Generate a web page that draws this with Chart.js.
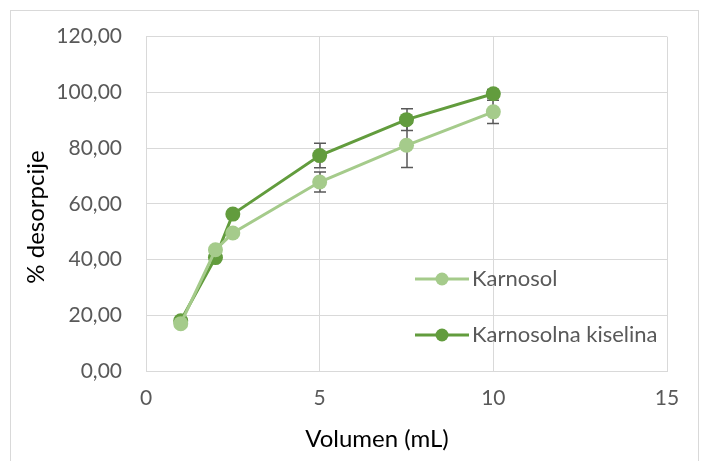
<!DOCTYPE html>
<html><head><meta charset="utf-8">
<script src="https://cdn.jsdelivr.net/npm/chart.js@4"></script>
<style>html,body{margin:0;padding:0;background:#fff}#wrap{width:702px;height:461px}</style>
</head><body><div id="wrap"><canvas id="c" width="702" height="461"></canvas></div>
<script>
// ---- data ----
const volumen = [1, 2, 2.5, 5, 7.5, 10];
const karnosol = [17.0, 43.5, 49.5, 67.8, 81.0, 93.0];
const karnosolErr = [1.0, 1.0, 1.0, 3.6, 8.0, 4.2];
const kiselina = [18.0, 40.7, 56.3, 77.3, 90.2, 99.5];
const kiselinaErr = [1.0, 1.0, 1.0, 4.4, 3.9, 1.5];
const seriesLabels = ['Karnosol', 'Karnosolna kiselina'];
const xTitle = 'Volumen (mL)';
const yTitle = '% desorpcije';

// ---- style ----
const C_LIGHT = '#A5CB8B';
const C_DARK = '#629C3D';
const GRID = '#d9d9d9';
const TXT = '#595959';
const FONT = 'Lato, "Liberation Sans", sans-serif';

function pts(xs, ys){ return xs.map((x,i)=>({x:x, y:ys[i]})); }

const errorBars = {
  id:'errorBars',
  beforeDatasetsDraw(chart){
    const ctx = chart.ctx, xs = chart.scales.x, ys = chart.scales.y;
    const errs = [karnosolErr, kiselinaErr];
    const vals = [karnosol, kiselina];
    ctx.save();
    ctx.strokeStyle = '#595959'; ctx.lineWidth = 1.5;
    errs.forEach((e,si)=>{
      volumen.forEach((v,i)=>{
        const px = Math.round(xs.getPixelForValue(v));
        const y1 = ys.getPixelForValue(vals[si][i]+e[i]);
        const y2 = ys.getPixelForValue(vals[si][i]-e[i]);
        ctx.beginPath();
        ctx.moveTo(px, y1); ctx.lineTo(px, y2);
        ctx.moveTo(px-6, y1); ctx.lineTo(px+6, y1);
        ctx.moveTo(px-6, y2); ctx.lineTo(px+6, y2);
        ctx.stroke();
      });
    });
    ctx.restore();
  }
};

const frameAndLegend = {
  id:'frameAndLegend',
  beforeDraw(chart){
    const ctx = chart.ctx;
    ctx.save();
    ctx.fillStyle='#fff'; ctx.fillRect(0,0,chart.width,chart.height);
    ctx.strokeStyle = GRID; ctx.lineWidth = 1;
    ctx.strokeRect(10.5, 10.5, 688, 470);
    ctx.restore();
  },
  afterDraw(chart){
    const ctx = chart.ctx;
    ctx.save();
    // axis titles
    ctx.fillStyle = '#000'; ctx.font = '24px ' + FONT;
    ctx.textAlign = 'center'; ctx.textBaseline = 'alphabetic';
    ctx.fillText(xTitle, 377, 447);
    ctx.translate(44, 217); ctx.rotate(-Math.PI/2);
    ctx.fillText(yTitle, 0, 0);
    ctx.setTransform(1,0,0,1,0,0);
    // legend
    const ys = [279, 335];
    chart.data.datasets.forEach((ds,i)=>{
      const y = ys[i];
      ctx.strokeStyle = ds.borderColor; ctx.lineWidth = 3;
      ctx.beginPath(); ctx.moveTo(415, y); ctx.lineTo(469, y); ctx.stroke();
      ctx.fillStyle = ds.backgroundColor;
      ctx.beginPath(); ctx.arc(442, y, 6.5, 0, Math.PI*2); ctx.fill();
      ctx.fillStyle = TXT; ctx.font = '22px ' + FONT;
      ctx.textBaseline = 'middle'; ctx.textAlign='left';
      ctx.fillText(ds.label, 472, y);
    });
    ctx.restore();
  }
};

new Chart(document.getElementById('c'), {
  type:'line',
  data:{ datasets:[
    { label: seriesLabels[0], data: pts(volumen, karnosol), borderColor:C_LIGHT, backgroundColor:C_LIGHT,
      borderWidth:3, pointRadius:7.5, pointHoverRadius:7.5, pointBorderWidth:0, tension:0 },
    { label: seriesLabels[1], data: pts(volumen, kiselina), borderColor:C_DARK, backgroundColor:C_DARK,
      borderWidth:3, pointRadius:7.5, pointHoverRadius:7.5, pointBorderWidth:0, tension:0 }
  ]},
  options:{
    responsive:false, animation:false, devicePixelRatio:1,
    layout:{ padding:{ top:35, right:35, left:0, bottom:0 } },
    plugins:{ legend:{display:false}, tooltip:{enabled:false} },
    scales:{
      x:{ type:'linear', min:0, max:15,
        ticks:{ stepSize:5, color:TXT, font:{family:FONT, size:21}, padding:15 },
        grid:{ color:GRID, drawTicks:false, lineWidth:1 },
        border:{ color:GRID },
        title:{ display:false, text:xTitle },
        afterFit(s){ s.height = 90; }
      },
      y:{ min:0, max:120,
        ticks:{ stepSize:20, color:TXT, font:{family:FONT, size:21}, padding:24,
          callback:(v)=>v.toFixed(2).replace('.', ',') },
        grid:{ color:GRID, drawTicks:false, lineWidth:1 },
        border:{ color:GRID },
        title:{ display:false, text:yTitle },
        afterFit(s){ s.width = 146; }
      }
    }
  },
  plugins:[errorBars, frameAndLegend]
});
</script></body></html>
